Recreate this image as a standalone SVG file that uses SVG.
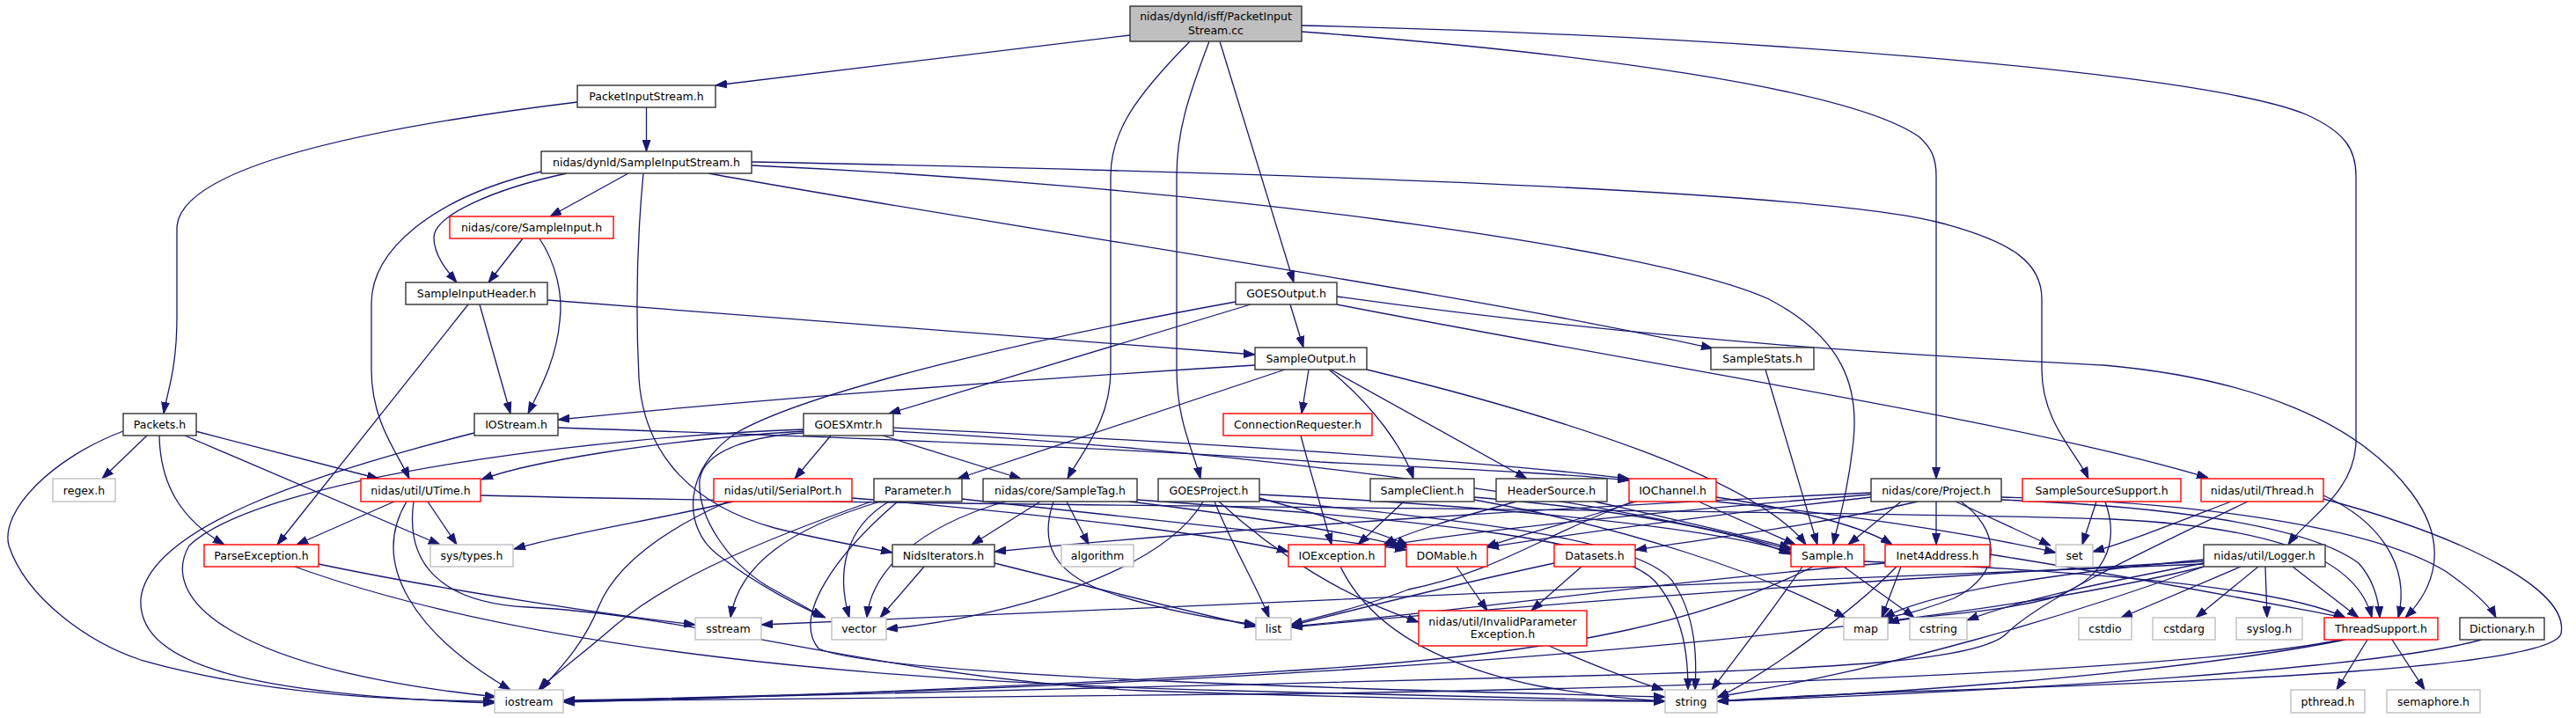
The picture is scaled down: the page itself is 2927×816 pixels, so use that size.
<svg xmlns="http://www.w3.org/2000/svg" width="2927" height="816" viewBox="0 0 2927 816">
<defs>
<marker id="a" markerUnits="userSpaceOnUse" markerWidth="13" markerHeight="10" refX="13" refY="5" orient="auto"><path d="M0,0.5 L13,5 L0,9.5 z" fill="#191970" stroke="#191970" stroke-width="1"/></marker>
</defs>
<style>
.e path{fill:none;stroke:#191970;stroke-width:1.3;marker-end:url(#a)}
rect{fill:#fff;stroke-width:1.4}
.k rect{stroke:#333}
.r rect{stroke:#ff0000}
.g rect{stroke:#bfbfbf}
.t rect{fill:#bfbfbf;stroke:#333}
text{font-family:"DejaVu Sans","Liberation Sans",sans-serif;font-size:12.5px;text-anchor:middle;fill:#000}
</style>
<rect x="0" y="0" width="2927" height="816" style="fill:#fff;stroke:none"/>
<g id="connectors" class="e">
<path d="M1284,40 L813,97"/>
<path d="M1386,47 L1470,321"/>
<path d="M1352,47 C1290,110 1262,150 1262,200 L1262,420 C1262,480 1228,515 1213,544"/>
<path d="M1374,47 C1350,110 1337,150 1337,200 L1337,420 C1337,480 1357,515 1364,544"/>
<path d="M1479,36 C1800,60 2100,100 2180,155 C2195,168 2200,180 2200,200 L2200,544"/>
<path d="M1479,29 C1950,40 2500,80 2620,130 C2665,150 2677,170 2677,200 L2677,500 C2677,560 2620,590 2600,619"/>
<path d="M734.5,122 L734.5,172"/>
<path d="M656,116 C420,145 201,190 201,260 L201,360 C201,420 190,445 186,470"/>
<path d="M714,197 L625,246"/>
<path d="M644,197 C560,215 493,245 493,270 C493,290 508,308 519,321"/>
<path d="M615,195 C490,225 422,285 422,345 L422,420 C422,480 452,515 465,544"/>
<path d="M731,197 C724,270 722,350 726,430 C732,520 790,575 880,600 C940,615 985,622 1014,628"/>
<path d="M805,197 C1150,260 1650,330 1946,396"/>
<path d="M854,184 C1400,195 2050,215 2200,252 C2290,275 2320,300 2320,340 L2320,420 C2320,480 2360,515 2373,544"/>
<path d="M854,188 C1350,210 1880,280 2010,340 C2095,385 2112,440 2106,500 C2100,560 2088,595 2083,619"/>
<path d="M594,271 L555,321"/>
<path d="M613,271 C632,300 640,335 636,365 C632,410 612,445 600,470"/>
<path d="M622,341 L1426,403"/>
<path d="M532,346 L315,619"/>
<path d="M545,346 L580,470"/>
<path d="M1466,346 L1481,395"/>
<path d="M1421,346 L1010,470"/>
<path d="M1404,343 C1200,380 930,440 840,490 C775,530 775,600 815,630 C860,665 910,690 938,702"/>
<path d="M913,492 C860,495 800,510 795,545 C792,590 830,640 870,665 C900,682 920,692 935,702"/>
<path d="M1519,346 C1900,420 2300,480 2509,543"/>
<path d="M1519,337 C1900,390 2200,405 2390,415 C2560,430 2680,480 2740,560 C2785,620 2765,670 2733,702"/>
<path d="M1426,415 C1100,435 800,460 634,477"/>
<path d="M1487,420 L1479,470"/>
<path d="M1460,420 L1088,544"/>
<path d="M1510,420 C1560,460 1595,510 1606,544"/>
<path d="M1512,420 L1735,544"/>
<path d="M1553,420 C1800,480 2000,550 2052,619"/>
<path d="M2006,420 L2065,619"/>
<path d="M167,495 L116,544"/>
<path d="M181,495 C182,550 205,590 255,619"/>
<path d="M210,495 L500,619"/>
<path d="M222,490 L430,544"/>
<path d="M140,490 C60,520 0,580 10,620 C30,680 100,730 160,750 C300,790 450,796 562,797"/>
<path d="M539,492 C350,540 170,600 160,680 C155,760 300,790 562,799"/>
<path d="M913,488 C700,495 300,540 215,620 C180,680 260,760 564,792"/>
<path d="M462,570 C420,640 470,720 580,784"/>
<path d="M634,486 C900,495 1300,510 1500,525 C1700,535 1800,540 1851,546"/>
<path d="M1015,486 C1300,500 1650,520 1851,544"/>
<path d="M944,495 L903,544"/>
<path d="M1003,495 L1160,544"/>
<path d="M913,490 C750,500 600,525 547,545"/>
<path d="M1015,490 C1400,510 1850,570 2035,625"/>
<path d="M1478,495 C1490,540 1505,590 1513,619"/>
<path d="M448,570 L337,619"/>
<path d="M486,570 L519,619"/>
<path d="M470,570 C460,640 500,685 600,690 C800,700 1000,770 1300,785 C1600,795 1800,797 1892,797"/>
<path d="M546,563 C1000,575 2000,578 2400,590 C2600,600 2680,640 2695,702"/>
<path d="M833,570 C750,590 650,605 584,624"/>
<path d="M827,570 C760,600 700,640 680,690 C660,740 625,770 615,784"/>
<path d="M968,566 C1200,585 1400,610 1464,627"/>
<path d="M1000,570 C900,600 840,640 830,702"/>
<path d="M1010,570 C960,600 950,650 965,702"/>
<path d="M990,570 C850,620 760,660 700,710 C660,745 625,770 612,784"/>
<path d="M1020,570 C950,630 900,700 930,737 C1000,770 1600,785 1892,792"/>
<path d="M1093,567 C1300,590 1500,610 1598,625"/>
<path d="M1182,570 L1104,619"/>
<path d="M1212,570 L1237,619"/>
<path d="M1142,570 C1040,600 990,650 985,702"/>
<path d="M1197,570 C1180,620 1200,650 1250,670 C1320,695 1390,705 1427,710"/>
<path d="M1283,570 C1450,590 1550,610 1600,622"/>
<path d="M1292,568 C1600,590 1830,610 1880,660 C1915,700 1918,750 1918,784"/>
<path d="M1431,568 C1650,590 1860,610 1900,660 C1928,700 1928,750 1926,784"/>
<path d="M1380,570 C1400,620 1430,670 1442,702"/>
<path d="M1385,570 C1450,630 1530,680 1612,707"/>
<path d="M1367,570 C1320,650 1150,700 1007,715"/>
<path d="M1431,566 C1500,585 1570,605 1600,620"/>
<path d="M1431,562 C1700,575 1950,600 2035,628"/>
<path d="M1595,570 L1543,619"/>
<path d="M1675,565 C1850,580 1980,605 2035,630"/>
<path d="M1675,568 C1850,600 2000,650 2097,702"/>
<path d="M1723,570 C1650,590 1600,605 1572,619"/>
<path d="M1812,570 C1900,590 1990,610 2035,623"/>
<path d="M1859,570 C1780,595 1720,610 1688,622"/>
<path d="M1930,570 L2040,619"/>
<path d="M1950,565 C2050,580 2120,600 2150,619"/>
<path d="M1950,570 C2150,590 2280,615 2336,628"/>
<path d="M1855,570 C1750,610 1700,650 1600,670 C1550,690 1500,700 1467,710"/>
<path d="M2200,570 L2200,619"/>
<path d="M2222,570 L2330,620"/>
<path d="M2228,570 C2270,600 2280,650 2220,680 C2180,695 2160,700 2138,702"/>
<path d="M2179,570 C2050,600 1950,610 1858,625"/>
<path d="M2126,560 C1800,575 1400,600 1130,627"/>
<path d="M2126,562 C1900,580 1700,600 1574,620"/>
<path d="M2126,565 C1950,585 1800,605 1690,622"/>
<path d="M2160,570 L2100,619"/>
<path d="M2274,568 C2450,575 2620,595 2680,640 C2698,660 2703,685 2704,702"/>
<path d="M2274,565 C2500,570 2700,600 2780,650 C2815,675 2830,690 2836,702"/>
<path d="M2382,570 L2366,619"/>
<path d="M2392,570 C2410,620 2390,660 2330,680 C2250,700 2180,698 2145,708"/>
<path d="M2535,570 C2470,595 2420,615 2378,627"/>
<path d="M2640,563 C2700,590 2740,640 2725,702"/>
<path d="M2554,570 C2450,620 2320,680 2280,720 C2250,750 2100,760 1800,768 C1400,778 900,792 640,797"/>
<path d="M2640,567 C2800,610 2920,670 2910,720 C2900,760 2500,775 2200,785 C2050,790 1980,795 1951,797"/>
<path d="M2546,644 L2410,702"/>
<path d="M2566,644 L2495,702"/>
<path d="M2574,644 L2576,702"/>
<path d="M2605,644 L2680,702"/>
<path d="M2504,640 C2400,660 2300,680 2235,705"/>
<path d="M2504,636 C2350,650 2200,670 2140,702"/>
<path d="M2504,638 C2100,660 1700,690 1467,713"/>
<path d="M2504,641 C2000,660 1300,690 865,710"/>
<path d="M2504,644 C2350,700 2150,760 1951,792"/>
<path d="M2504,644 C2200,720 1500,780 640,796"/>
<path d="M2048,644 C2010,700 1970,750 1945,784"/>
<path d="M2060,644 C1950,700 1800,740 1500,760 C1200,780 800,795 640,798"/>
<path d="M2095,644 C2130,670 2160,690 2175,702"/>
<path d="M2118,638 C2400,650 2600,670 2665,702"/>
<path d="M2160,644 L2138,702"/>
<path d="M2261,630 C2450,660 2600,690 2665,702"/>
<path d="M2155,644 C2100,700 2000,770 1951,793"/>
<path d="M2142,640 C1900,660 1700,690 1467,712"/>
<path d="M2690,727 L2655,784"/>
<path d="M2718,727 L2755,784"/>
<path d="M2660,727 C2500,760 2000,780 1500,788 C1100,793 800,797 640,797"/>
<path d="M2665,727 C2450,770 2100,790 1951,797"/>
<path d="M2820,727 C2700,760 2300,785 1951,797"/>
<path d="M1050,644 L1000,702"/>
<path d="M1130,640 C1250,670 1350,695 1427,712"/>
<path d="M362,641 C500,670 700,700 790,710"/>
<path d="M335,644 C600,740 1000,775 1400,785 C1650,792 1800,795 1892,797"/>
<path d="M1523,644 C1560,720 1650,760 1750,780 C1820,792 1860,795 1892,797"/>
<path d="M1655,644 L1690,694"/>
<path d="M1797,644 L1740,694"/>
<path d="M1766,640 C1650,665 1550,690 1467,711"/>
<path d="M1760,734 C1820,760 1860,775 1890,784"/>
</g>
<g id="n_root" class="t"><rect x="1284" y="7" width="195" height="40"/><text x="1381.5" y="23">nidas/dynld/isff/PacketInput</text><text x="1381.5" y="39">Stream.cc</text></g>
<g id="n_PacketInputStream" class="k"><rect x="656" y="97" width="157" height="25"/><text x="734.5" y="114">PacketInputStream.h</text></g>
<g id="n_SampleInputStream" class="k"><rect x="615" y="172" width="239" height="25"/><text x="734.5" y="189">nidas/dynld/SampleInputStream.h</text></g>
<g id="n_SampleInput" class="r"><rect x="511" y="246" width="186" height="25"/><text x="604" y="263">nidas/core/SampleInput.h</text></g>
<g id="n_SampleInputHeader" class="k"><rect x="461" y="321" width="161" height="25"/><text x="541.5" y="338">SampleInputHeader.h</text></g>
<g id="n_GOESOutput" class="k"><rect x="1404" y="321" width="115" height="25"/><text x="1461.5" y="338">GOESOutput.h</text></g>
<g id="n_SampleOutput" class="k"><rect x="1426" y="395" width="127" height="25"/><text x="1489.5" y="412">SampleOutput.h</text></g>
<g id="n_SampleStats" class="k"><rect x="1944" y="395" width="117" height="25"/><text x="2002.5" y="412">SampleStats.h</text></g>
<g id="n_Packets" class="k"><rect x="140" y="470" width="83" height="25"/><text x="181.5" y="487">Packets.h</text></g>
<g id="n_IOStream" class="k"><rect x="539" y="470" width="95" height="25"/><text x="586.5" y="487">IOStream.h</text></g>
<g id="n_GOESXmtr" class="k"><rect x="913" y="470" width="102" height="25"/><text x="964" y="487">GOESXmtr.h</text></g>
<g id="n_ConnectionRequester" class="r"><rect x="1390" y="470" width="169" height="25"/><text x="1474.5" y="487">ConnectionRequester.h</text></g>
<g id="n_regex" class="g"><rect x="60" y="544" width="71" height="26"/><text x="95.5" y="561.5">regex.h</text></g>
<g id="n_UTime" class="r"><rect x="410" y="544" width="136" height="26"/><text x="478" y="561.5">nidas/util/UTime.h</text></g>
<g id="n_SerialPort" class="r"><rect x="811" y="544" width="157" height="26"/><text x="889.5" y="561.5">nidas/util/SerialPort.h</text></g>
<g id="n_Parameter" class="k"><rect x="993" y="544" width="100" height="26"/><text x="1043" y="561.5">Parameter.h</text></g>
<g id="n_SampleTag" class="k"><rect x="1117" y="544" width="175" height="26"/><text x="1204.5" y="561.5">nidas/core/SampleTag.h</text></g>
<g id="n_GOESProject" class="k"><rect x="1316" y="544" width="115" height="26"/><text x="1373.5" y="561.5">GOESProject.h</text></g>
<g id="n_SampleClient" class="k"><rect x="1557" y="544" width="118" height="26"/><text x="1616" y="561.5">SampleClient.h</text></g>
<g id="n_HeaderSource" class="k"><rect x="1700" y="544" width="126" height="26"/><text x="1763" y="561.5">HeaderSource.h</text></g>
<g id="n_IOChannel" class="r"><rect x="1851" y="544" width="99" height="26"/><text x="1900.5" y="561.5">IOChannel.h</text></g>
<g id="n_Project" class="k"><rect x="2126" y="544" width="148" height="26"/><text x="2200" y="561.5">nidas/core/Project.h</text></g>
<g id="n_SampleSourceSupport" class="r"><rect x="2298" y="544" width="180" height="26"/><text x="2388" y="561.5">SampleSourceSupport.h</text></g>
<g id="n_Thread" class="r"><rect x="2501" y="544" width="139" height="26"/><text x="2570.5" y="561.5">nidas/util/Thread.h</text></g>
<g id="n_ParseException" class="r"><rect x="232" y="619" width="130" height="25"/><text x="297" y="636">ParseException.h</text></g>
<g id="n_systypes" class="g"><rect x="489" y="619" width="94" height="25"/><text x="536" y="636">sys/types.h</text></g>
<g id="n_NidsIterators" class="k"><rect x="1014" y="619" width="116" height="25"/><text x="1072" y="636">NidsIterators.h</text></g>
<g id="n_algorithm" class="g"><rect x="1206" y="619" width="82" height="25"/><text x="1247" y="636">algorithm</text></g>
<g id="n_IOException" class="r"><rect x="1464" y="619" width="110" height="25"/><text x="1519" y="636">IOException.h</text></g>
<g id="n_DOMable" class="r"><rect x="1598" y="619" width="92" height="25"/><text x="1644" y="636">DOMable.h</text></g>
<g id="n_Datasets" class="r"><rect x="1766" y="619" width="92" height="25"/><text x="1812" y="636">Datasets.h</text></g>
<g id="n_Sample" class="r"><rect x="2035" y="619" width="83" height="25"/><text x="2076.5" y="636">Sample.h</text></g>
<g id="n_Inet4Address" class="r"><rect x="2142" y="619" width="119" height="25"/><text x="2201.5" y="636">Inet4Address.h</text></g>
<g id="n_set" class="g"><rect x="2336" y="619" width="42" height="25"/><text x="2357" y="636">set</text></g>
<g id="n_Logger" class="k"><rect x="2504" y="619" width="138" height="25"/><text x="2573" y="636">nidas/util/Logger.h</text></g>
<g id="n_sstream" class="g"><rect x="790" y="702" width="75" height="25"/><text x="827.5" y="719">sstream</text></g>
<g id="n_vector" class="g"><rect x="945" y="702" width="62" height="25"/><text x="976" y="719">vector</text></g>
<g id="n_list" class="g"><rect x="1427" y="702" width="40" height="25"/><text x="1447" y="719">list</text></g>
<g id="n_InvalidParameterException" class="r"><rect x="1612" y="694" width="191" height="40"/><text x="1707.5" y="711">nidas/util/InvalidParameter</text><text x="1707.5" y="725">Exception.h</text></g>
<g id="n_map" class="g"><rect x="2095" y="702" width="50" height="25"/><text x="2120" y="719">map</text></g>
<g id="n_cstring" class="g"><rect x="2170" y="702" width="65" height="25"/><text x="2202.5" y="719">cstring</text></g>
<g id="n_cstdio" class="g"><rect x="2362" y="702" width="60" height="25"/><text x="2392" y="719">cstdio</text></g>
<g id="n_cstdarg" class="g"><rect x="2446" y="702" width="71" height="25"/><text x="2481.5" y="719">cstdarg</text></g>
<g id="n_syslog" class="g"><rect x="2541" y="702" width="75" height="25"/><text x="2578.5" y="719">syslog.h</text></g>
<g id="n_ThreadSupport" class="r"><rect x="2641" y="702" width="129" height="25"/><text x="2705.5" y="719">ThreadSupport.h</text></g>
<g id="n_Dictionary" class="k"><rect x="2795" y="702" width="96" height="25"/><text x="2843" y="719">Dictionary.h</text></g>
<g id="n_iostream" class="g"><rect x="562" y="784" width="78" height="26"/><text x="601" y="801.5">iostream</text></g>
<g id="n_string" class="g"><rect x="1892" y="784" width="59" height="26"/><text x="1921.5" y="801.5">string</text></g>
<g id="n_pthread" class="g"><rect x="2603" y="784" width="84" height="26"/><text x="2645" y="801.5">pthread.h</text></g>
<g id="n_semaphore" class="g"><rect x="2712" y="784" width="106" height="26"/><text x="2765" y="801.5">semaphore.h</text></g>
</svg>
